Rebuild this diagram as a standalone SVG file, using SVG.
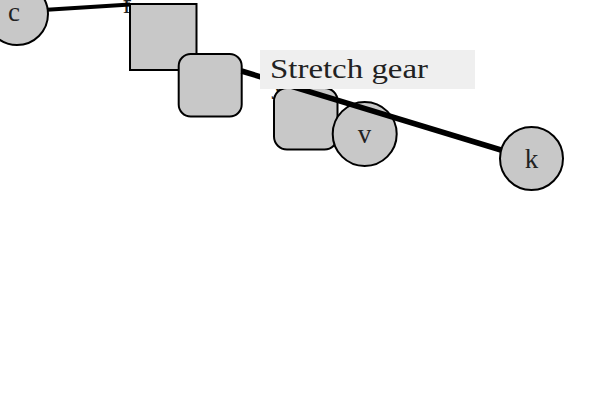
<svg xmlns="http://www.w3.org/2000/svg" width="600" height="400" viewBox="0 0 600 400">
<style>
.node{fill:#c8c8c8;stroke:#000;stroke-width:2}
.lbl{font-family:"Liberation Serif","Times New Roman",serif;font-size:27px;fill:#222;text-anchor:middle}
.edge{stroke:#000;fill:none;stroke-linecap:butt}
.tag{font-family:"Liberation Serif","Times New Roman",serif;font-size:28px;fill:#222}
</style>
<rect width="600" height="400" fill="#fff"/>
<g id="node-c"><circle class="node" cx="17" cy="14" r="31"/><text class="lbl" x="14" y="21">c</text></g>
<g id="node-f"><text class="lbl" x="127" y="13">f</text><rect class="node" x="130" y="4" width="66.5" height="66"/></g>
<g id="node-r1"><rect class="node" x="178.7" y="54" width="63" height="62.5" rx="12"/></g>
<g id="node-y"><text class="lbl" x="278" y="93">y</text><rect class="node" x="274" y="88" width="63.5" height="61.5" rx="13"/></g>
<g id="node-v"><circle class="node" cx="364.7" cy="134" r="32"/><text class="lbl" x="364.5" y="143">v</text></g>
<g id="node-k"><circle class="node" cx="531.5" cy="158.5" r="31.5"/><text class="lbl" x="531.5" y="168">k</text></g>
<g id="connectors">
<line class="edge" x1="47" y1="9.8" x2="130" y2="4.5" stroke-width="4"/>
<line class="edge" x1="241.5" y1="71" x2="501" y2="150" stroke-width="5.5"/>
</g>
<g id="label-stretch-gear">
<rect x="260" y="50" width="215" height="39" fill="#efefef"/>
<text class="tag" x="270" y="77.7" textLength="158" lengthAdjust="spacingAndGlyphs">Stretch gear</text>
</g>
</svg>
